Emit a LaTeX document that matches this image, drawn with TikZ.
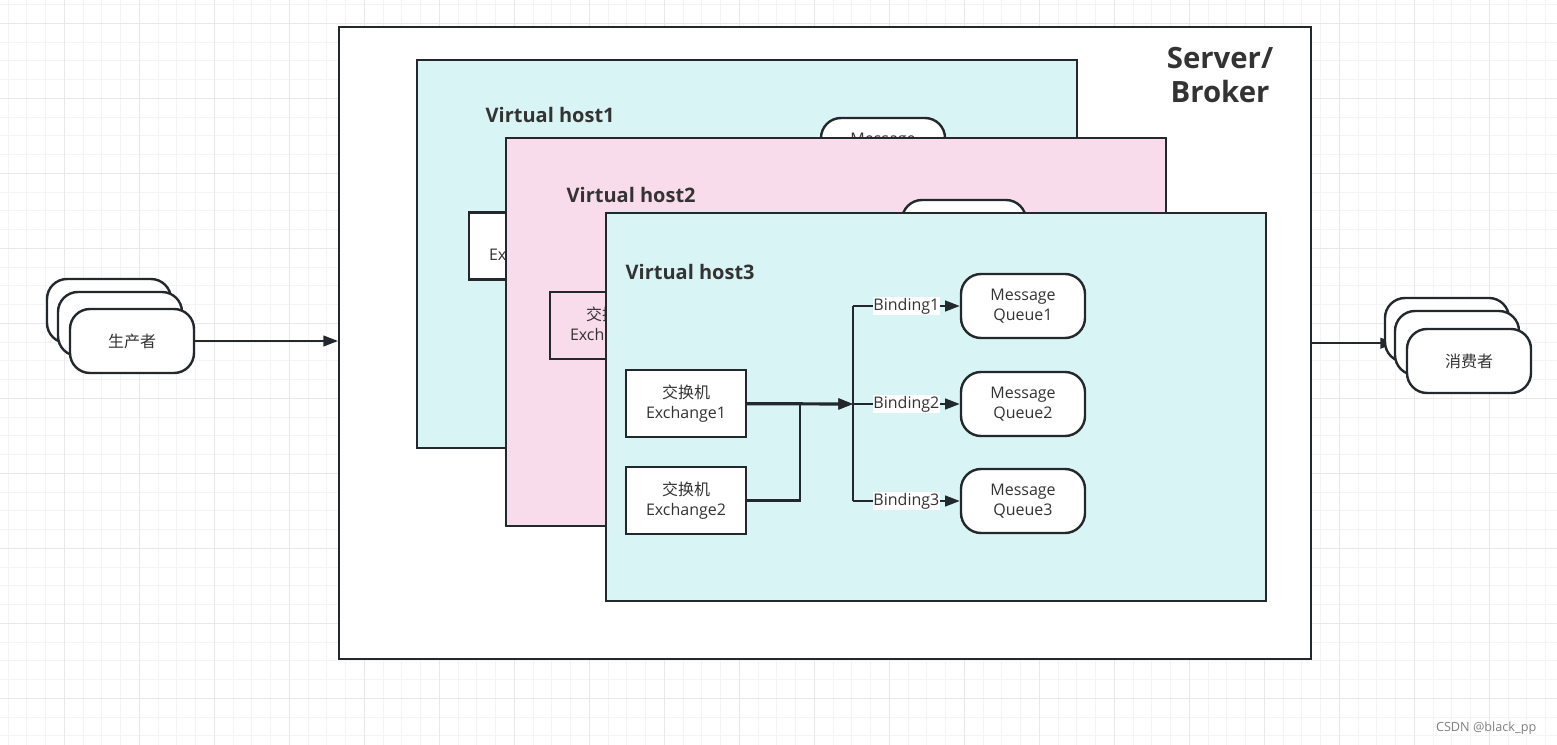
\documentclass[tikz,border=0pt]{standalone}
\usepackage{fontspec}
\setmainfont{Open Sans}
\newfontfamily\cjk{Noto Sans CJK SC}
\usetikzlibrary{arrows.meta}
\definecolor{edgecol}{HTML}{23282D}
\definecolor{txtcol}{HTML}{333333}
\definecolor{hostcyan}{HTML}{D9F4F4}
\definecolor{hostpink}{HTML}{F9DCEB}
\definecolor{gridminor}{HTML}{F4F4F4}
\definecolor{gridmajor}{HTML}{E8E8E8}

\begin{document}
\begin{tikzpicture}[x=0.75pt,y=-0.75pt,
  font=\fontsize{12pt}{15pt}\selectfont, text=txtcol,
  box/.style={draw=edgecol, line width=1.8pt},
  hostbox/.style={box, anchor=north west, minimum width=495pt, minimum height=291pt, inner sep=0pt},
  hostlabel/.style={anchor=west, font=\fontsize{15pt}{18pt}\selectfont\bfseries},
  exbox/.style={box, minimum width=90pt, minimum height=50pt, align=center, inner sep=0pt},
  queue/.style={box, fill=white, rounded corners=15pt, minimum width=93pt, minimum height=48pt, align=center, inner sep=0pt},
  client/.style={queue},
  flow/.style={draw=edgecol, line width=1.6pt, -{Triangle[length=11pt,width=8pt]}},
  bind/.style={fill=white, inner sep=0.5pt}]
  \useasboundingbox (0,0) rectangle (1557,745);
  % background grid
  \begin{scope}
    \clip (0,0) rectangle (1557,745);
    \foreach \i in {0,...,83} \draw[gridminor, line width=0.75pt] (8.05+\i*18.75,0) -- (8.05+\i*18.75,745);
    \foreach \i in {0,...,40} \draw[gridminor, line width=0.75pt] (0,4.55+\i*18.75) -- (1557,4.55+\i*18.75);
    \foreach \i in {0,...,21} \draw[gridmajor, line width=0.75pt] (-10.7+\i*75,0) -- (-10.7+\i*75,745);
    \foreach \i in {0,...,10} \draw[gridmajor, line width=0.75pt] (0,23.3+\i*75) -- (1557,23.3+\i*75);
  \end{scope}

  % Server / Broker
  \node[box, fill=white, anchor=north west, minimum width=729pt, minimum height=474pt, inner sep=0pt] (server) at (338,26) {};
  \node[align=center, font=\fontsize{22pt}{25.5pt}\selectfont\bfseries] (srvlabel) at (1220,75) {Server/\\Broker};

  % Virtual host1
  \node[hostbox, fill=hostcyan] (h1) at (416,59) {};
  \node[hostlabel] (h1label) at (481,115) {Virtual host1};
  \node[exbox, fill=white] (h1ex) at (529,246) {{\cjk 交换机}\\Exchange1};
  \node[queue] (h1q) at (883,150) {Message\\Queue1};

  % Virtual host2
  \node[hostbox, fill=hostpink] (h2) at (505,137) {};
  \node[hostlabel] (h2label) at (562,195) {Virtual host2};
  \node[exbox, fill=hostpink] (h2ex) at (610,325.5) {{\cjk 交换机}\\Exchange1};
  \node[queue] (h2q) at (964,232) {Message\\Queue1};

  % Virtual host3
  \node[hostbox, fill=hostcyan] (h3) at (605,212) {};
  \node[hostlabel] (h3label) at (621,272) {Virtual host3};
  \node[exbox, fill=white] (ex1) at (686,403.5) {{\cjk 交换机}\\Exchange1};
  \node[exbox, fill=white] (ex2) at (686,500.5) {{\cjk 交换机}\\Exchange2};
  \node[queue] (q1) at (1023,306) {Message\\Queue1};
  \node[queue] (q2) at (1023,404) {Message\\Queue2};
  \node[queue] (q3) at (1023,501) {Message\\Queue3};

  \coordinate (busA) at (853,306);
  \coordinate (busB) at (853,404);
  \coordinate (busC) at (853,501);
  \coordinate (join) at (800,404);
  \draw[draw=edgecol, line width=1.6pt] (busA) -- (busC);
  \draw[flow, line width=2.4pt] (ex1) -- (busB);
  \draw[flow] (ex2) -| (join) -- (busB);
  \draw[flow] (busA) -- node[bind] {Binding1} (q1);
  \draw[flow] (busB) -- node[bind] {Binding2} (q2);
  \draw[flow] (busC) -- node[bind] {Binding3} (q3);

  % producers and consumers
  \draw[flow] (server.east) -- (server.east -| 1395,0);
  \node[client] (prodC) at (109,311) {};
  \node[client] (prodB) at (120,324) {};
  \node[client] (prodA) at (132,341) {\cjk 生产者};
  \draw[flow] (prodA) -- (prodA -| server.west);
  \node[client] (consC) at (1447,330) {};
  \node[client] (consB) at (1457,343) {};
  \node[client] (consA) at (1469,361) {\cjk 消费者};

  \node[anchor=east, text=gray, font=\fontsize{9.5pt}{11pt}\selectfont] (mark) at (1541,728) {CSDN @black\_pp};
\end{tikzpicture}
\end{document}
